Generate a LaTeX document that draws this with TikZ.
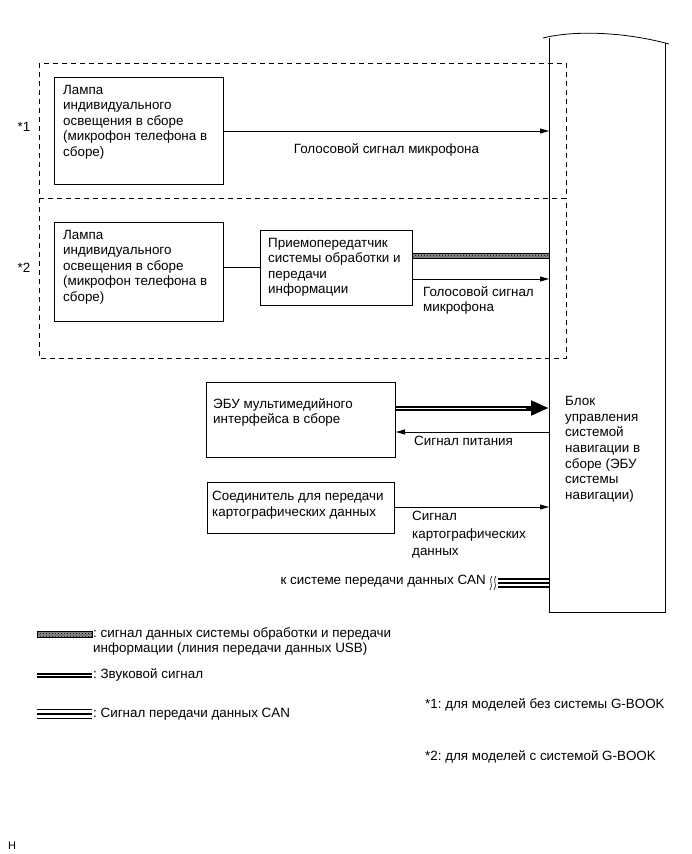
\documentclass[tikz,border=0pt]{standalone}
\usepackage{fontspec}
\setmainfont{Liberation Sans}
\usetikzlibrary{arrows.meta,positioning,patterns}

\begin{document}
\frenchspacing
\begin{tikzpicture}[x=1pt,y=-1pt,>={Triangle[length=9pt,width=5pt]},
  every node/.style={font=\fontsize{13.4}{15.5}\selectfont},
  box/.style={draw,line width=1pt,inner sep=0,anchor=north west},
  grp/.style={draw,line width=1pt,dash pattern=on 5pt off 4pt},
  txt/.style={align=left,inner sep=0,anchor=north west},
  sig/.style={line width=0.8pt},
  usbbar/.style={draw,line width=0.5pt,fill=black!45,postaction={pattern=crosshatch dots}},
  legbar/.style={minimum width=55pt,minimum height=6pt,inner sep=0,anchor=west}]
\useasboundingbox (0,0) rectangle (691,854);
% frames for the two variants
\draw[grp] (39,63) rectangle (566,198);
\draw[grp] (39,198) -- (39,358) -- (566,358) -- (566,198);
\node at (24,127) (var1) {*1};
\node at (24,268) (var2) {*2};
% navigation ECU
\node[inner sep=0,minimum width=116pt,minimum height=574pt,anchor=north west] (ecu) at (549,38) {};
\draw[line width=1pt] (ecu.north west) -- (ecu.south west) -- (ecu.south east) -- ([yshift=-5pt]ecu.north east);
\draw[line width=0.8pt] (543,38) .. controls (575,30) and (625,32) .. (669,44);
\node[txt,font=\fontsize{13.4}{15.7}\selectfont] (ecut) at (565,396) {Блок\\управления\\системой\\навигации в\\сборе (ЭБУ\\системы\\навигации)};
% variant *1
\node[box,minimum width=169pt,minimum height=107pt] (lamp1) at (54,77) {};
\node[txt] (lamp1t) at ([xshift=9pt,yshift=-8pt]lamp1.north west) {Лампа\\индивидуального\\освещения в сборе\\(микрофон телефона в\\сборе)};
\draw[sig,->] (lamp1.east) -- (lamp1.east -| ecu.west) node[pos=0.5,below=9pt] (mic1) {Голосовой сигнал микрофона};
% variant *2
\node[box,minimum width=169pt,minimum height=99pt] (lamp2) at (54,222) {};
\node[txt] (lamp2t) at ([xshift=9pt,yshift=-8pt]lamp2.north west) {Лампа\\индивидуального\\освещения в сборе\\(микрофон телефона в\\сборе)};
\node[box,minimum width=152pt,minimum height=75pt] (tcu) at (260,230) {};
\node[txt] (tcut) at ([xshift=8pt,yshift=-8pt]tcu.north west) {Приемопередатчик\\системы обработки и\\передачи\\информации};
\draw[sig] (lamp2.east |- 0,267) coordinate (l2) -- (l2 -| tcu.west);
\coordinate (usb) at (412,256);
\path[usbbar] ([yshift=2.5pt]usb) rectangle ([yshift=-2.5pt]usb -| ecu.west);
\draw[sig,->] (412,279) coordinate (mic2a) -- (mic2a -| ecu.west);
\node[txt] (mic2) at (423,286) {Голосовой сигнал\\микрофона};
% multimedia ECU
\node[box,minimum width=189pt,minimum height=75pt] (mm) at (206,382) {};
\node[txt] (mmt) at (213,398) {ЭБУ мультимедийного\\интерфейса в сборе};
\draw[line width=5pt,-{Triangle[length=18pt,width=14pt]}] (mm.east |- 0,408) coordinate (snd) -- (snd -| ecu.west);
\draw[white,line width=0.6pt] (snd) -- ([xshift=130pt]snd);
\draw[sig,<-] (mm.east |- 0,432) coordinate (pwr) -- (pwr -| ecu.west);
\node[txt] (pwrt) at (414,436) {Сигнал питания};
% map data connector
\node[box,minimum width=187pt,minimum height=51pt] (map) at (207,482) {};
\node[txt] (mapt) at (212,491) {Соединитель для передачи\\картографических данных};
\draw[sig,->] (map.east |- 0,507) coordinate (mapa) -- (mapa -| ecu.west);
\node[txt,font=\fontsize{13.4}{17.5}\selectfont] (mapl) at (412,511) {Сигнал\\картографических\\данных};
% CAN
\coordinate (can) at (498,583);
\draw[line width=1.5pt] ([yshift=-3.8pt]can) -- ([yshift=-3.8pt]can -| ecu.west);
\draw[line width=1.5pt] (can) -- (can -| ecu.west);
\draw[line width=1.5pt] ([yshift=3.8pt]can) -- ([yshift=3.8pt]can -| ecu.west);
\draw[line width=0.6pt] (492,576) .. controls (488,580) and (494,585) .. (490,590);
\draw[line width=0.6pt] (496,576) .. controls (492,580) and (498,585) .. (494,590);
\node[anchor=east,inner sep=0] (cant) at (486,581) {к системе передачи данных CAN};
% legend
\node[legbar,usbbar] (leg1) at (37,634) {};
\node[txt] (leg1t) at (93,627) {: сигнал данных системы обработки и передачи\\информации (линия передачи данных USB)};
\node[legbar,fill=black,minimum height=5pt] (leg2) at (37,675) {};
\draw[white,line width=0.5pt] (leg2.west) -- (leg2.east);
\node[txt,anchor=west] (leg2t) at (93,675) {: Звуковой сигнал};
\node[legbar,minimum height=9pt] (leg3) at (37,714) {};
\draw[line width=1.5pt] (leg3.north west) -- (leg3.north east) (leg3.west) -- (leg3.east) (leg3.south west) -- (leg3.south east);
\node[txt,anchor=west] (leg3t) at (93,714) {: Сигнал передачи данных CAN};
\node[txt,anchor=west] (note1) at (425,705) {*1: для моделей без системы G-BOOK};
\node[txt,anchor=west] (note2) at (425,757) {*2: для моделей с системой G-BOOK};
\node[txt,anchor=west,font=\fontsize{11}{13}\selectfont] (hmark) at (8,846) {H};
\end{tikzpicture}
\end{document}
